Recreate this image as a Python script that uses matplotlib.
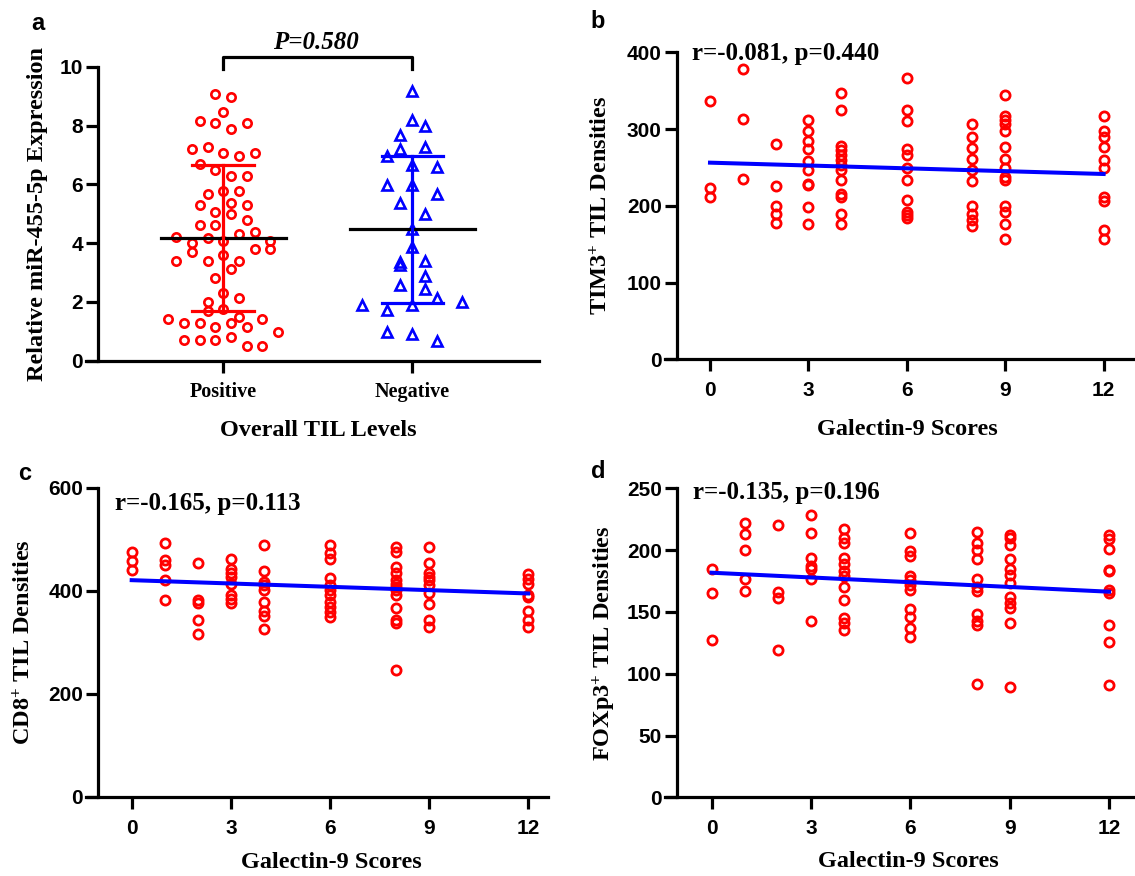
import numpy as np
import matplotlib
matplotlib.use('Agg')
import matplotlib.pyplot as plt

plt.rcParams.update({
    'font.family': 'Liberation Sans', 'font.weight': 'bold',
    'mathtext.fontset': 'custom', 'mathtext.rm': 'Liberation Serif:bold',
    'mathtext.it': 'Liberation Serif:bold', 'mathtext.bf': 'Liberation Serif:bold',
})
SERIF = 'Liberation Serif'
RED = '#ff0000'
BLUE = '#0000ff'
W, H = 1135, 876

# ---- panel a: miR-455-5p by TIL level (value, swarm slot) ----
groups = ['Positive', 'Negative']
pos_vals = [9.07, 8.96, 8.47, 8.16, 8.07, 7.87, 8.07, 7.19, 7.26, 7.08, 6.96, 7.08,
            6.69, 6.49, 6.28, 6.28, 5.67, 5.78, 5.78, 5.30, 5.37, 5.30, 5.07, 4.99,
            4.79, 4.62, 4.62, 4.20, 4.16, 4.31, 4.39, 3.99, 4.08, 4.08, 3.71, 3.79,
            3.79, 3.40, 3.40, 3.60, 3.40, 3.11, 2.80, 2.31, 2.01, 2.12, 1.70, 1.75,
            1.50, 1.41, 1.29, 1.29, 1.29, 1.41, 1.14, 1.14, 0.99, 0.70, 0.70, 0.70,
            0.80, 0.50, 0.50]
pos_slot = [-1, 1, 0, -3, -1, 1, 3, -4, -2, 0, 2, 4,
            -3, -1, 1, 3, -2, 0, 2, -3, 1, 3, -1, 1,
            3, -3, -1, -6, -2, 2, 4, -4, 0, 6, -4, 4,
            6, -6, -2, 0, 2, 1, -1, 0, -2, 2, -2, 0,
            2, -7, -5, -3, 1, 5, -1, 3, 7, -5, -3, -1,
            1, 3, 5]
neg_vals = [9.18, 8.19, 7.98, 7.68, 7.19, 7.26, 6.96, 6.66, 6.58, 5.98, 5.98, 5.67,
            5.37, 4.99, 4.47, 3.86, 3.37, 3.26, 3.40, 2.88, 2.57, 2.43, 1.89, 1.72,
            1.89, 2.12, 2.01, 0.99, 0.91, 0.68]
neg_slot = [0, 0, 1, -1, -1, 1, -2, 0, 2, -2, 0, 2,
            -1, 1, 0, 0, -1, -1, 1, 1, -1, 1, -4, -2,
            0, 2, 4, -2, 0, 2]
p_text = 'P=0.580'

# ---- panels b-d: densities by Galectin-9 score ----
tim3 = {0: [336, 223, 211], 1: [378, 313, 235], 2: [280, 226, 200, 189, 178],
        3: [312, 297, 285, 274, 258, 246, 229, 227, 198, 176],
        4: [347, 325, 278, 273, 266, 260, 253, 247, 234, 215, 211, 189, 176],
        6: [366, 325, 311, 274, 266, 249, 234, 207, 192, 188, 184],
        8: [307, 290, 275, 261, 246, 232, 200, 189, 182, 174],
        9: [345, 317, 312, 307, 298, 277, 261, 249, 238, 234, 200, 192, 176, 157],
        12: [317, 297, 289, 276, 260, 249, 212, 206, 169, 157]}
cd8 = {0: [475, 458, 441], 1: [492, 459, 450, 420, 382], 2: [453, 382, 377, 343, 316],
       3: [462, 443, 434, 427, 414, 392, 383, 377],
       4: [488, 439, 417, 411, 401, 379, 361, 351, 325],
       6: [488, 474, 462, 424, 411, 401, 392, 379, 369, 359, 350],
       8: [485, 475, 446, 434, 421, 414, 408, 401, 392, 366, 343, 337, 246],
       9: [484, 454, 434, 427, 421, 411, 395, 374, 343, 330],
       12: [432, 422, 414, 392, 387, 361, 343, 330]}
foxp3 = {0: [185, 165, 127], 1: [222, 213, 200, 177, 167], 2: [220, 166, 161, 119],
         3: [228, 214, 194, 187, 185, 177, 143],
         4: [217, 210, 206, 194, 189, 183, 179, 170, 160, 145, 141, 135],
         6: [214, 199, 195, 179, 176, 172, 168, 152, 146, 137, 130],
         8: [215, 206, 200, 193, 177, 170, 167, 148, 143, 139, 92],
         9: [212, 210, 204, 193, 185, 180, 173, 162, 157, 153, 141, 89],
         12: [212, 209, 201, 184, 183, 168, 165, 139, 126, 91]}
tim3_fit = (256.2, -1.23)   # intercept, slope
cd8_fit = (420.5, -2.15)
foxp3_fit = (181.7, -1.28)
tim3_stat = 'r=-0.081, p=0.440'
cd8_stat = 'r=-0.165, p=0.113'
foxp3_stat = 'r=-0.135, p=0.196'


def add_axes(fig, L, T, R, B):
    return fig.add_axes([L / W, (H - B) / H, (R - L) / W, (B - T) / H])


def style(ax, spine_x, xlim, ylim, yticks):
    ax.set_xlim(xlim)
    ax.set_ylim(ylim)
    ax.set_yticks(yticks)
    ax.spines['left'].set_position(('data', spine_x))
    ax.spines[['top', 'right']].set_visible(False)
    for s in ['left', 'bottom']:
        ax.spines[s].set_linewidth(2.3)
    ax.tick_params(width=2.3, length=8.6, labelsize=15, direction='out')
    ax.tick_params(axis='x', pad=7)
    ax.tick_params(axis='y', pad=2.4)


def labels(ax, xlab, ylab, xl, yl):
    ax.set_xlabel(xlab, fontfamily=SERIF, fontsize=17.5, fontweight='bold')
    ax.set_ylabel(ylab, fontfamily=SERIF, fontsize=17.5, fontweight='bold')
    ax.xaxis.set_label_coords(*xl)
    ax.yaxis.set_label_coords(*yl)
    ax.xaxis.label.set_va('center')
    ax.yaxis.label.set_va('center')


def scatter_panel(ax, data, fit, stat, text_xy):
    xs = [k for k, v in data.items() for _ in v]
    ys = [y for v in data.values() for y in v]
    ax.plot(xs, ys, 'o', ms=6.6, mfc='none', mec=RED, mew=2.0, zorder=3, clip_on=False)
    xf = np.array([0, 12])
    ax.plot(xf, fit[0] + fit[1] * xf, color=BLUE, lw=2.9, zorder=4)
    ax.set_xticks([0, 3, 6, 9, 12])
    ax.text(*text_xy, stat, fontfamily=SERIF, fontsize=18, fontweight='bold',
            ha='left', va='center')


fig = plt.figure(figsize=(W / 100, H / 100), dpi=100)

# panel a
ax = add_axes(fig, 86, 66.7, 539, 360.7)
style(ax, -0.661, (-0.726, 1.670), (0, 10), range(0, 11, 2))
ax.set_xticks([0, 1])
ax.set_xticklabels(groups, fontfamily=SERIF, fontsize=14.5)
for gi, (vals, slots, mk, col, step) in enumerate(
        [(pos_vals, pos_slot, 'o', RED, 0.0414), (neg_vals, neg_slot, '^', BLUE, 0.066)]):
    vals = np.array(vals)
    ax.plot(gi + np.array(slots) * step, vals, mk, ms=6.0 if mk == 'o' else 7.2,
            mfc='none', mec=col, mew=1.9, zorder=3)
    m, sd = vals.mean(), vals.std(ddof=1)
    ax.plot([gi - 0.33, gi + 0.33], [m, m], color='black', lw=2.3, zorder=4)
    ax.plot([gi, gi], [m - sd, m + sd], color=col, lw=2.3, zorder=4)
    for yv in (m - sd, m + sd):
        ax.plot([gi - 0.163, gi + 0.163], [yv, yv], color=col, lw=2.3, zorder=4)
ax.plot([0, 0, 1, 1], [9.91, 10.34, 10.34, 9.91], color='black', lw=2.3, clip_on=False)
ax.text(0.49, 10.84, p_text, fontfamily=SERIF, fontsize=18, fontweight='bold',
        fontstyle='italic', ha='center', va='center')
labels(ax, 'Overall TIL Levels', 'Relative miR-455-5p Expression', (0.512, -0.236), (-0.106, 0.5))

# panel b
ax = add_axes(fig, 665, 52.3, 1133, 359.3)
style(ax, -1.006, (-1.372, 12.896), (0, 400), range(0, 401, 100))
scatter_panel(ax, tim3, tim3_fit, tim3_stat, (-0.55, 398.7))
labels(ax, 'Galectin-9 Scores', 'TIM3$^{+}$ TIL Densities', (0.517, -0.230), (-0.137, 0.5))

# panel c
ax = add_axes(fig, 86, 487.6, 548, 797)
style(ax, -1.01, (-1.383, 12.6), (0, 600), range(0, 601, 200))
scatter_panel(ax, cd8, cd8_fit, cd8_stat, (-0.5, 569))
labels(ax, 'Galectin-9 Scores', 'CD8$^{+}$ TIL Densities', (0.532, -0.213), (-0.134, 0.5))

# panel d
ax = add_axes(fig, 665, 488.3, 1133, 797.3)
style(ax, -1.04, (-1.41, 12.72), (0, 250), range(0, 251, 50))
scatter_panel(ax, foxp3, foxp3_fit, foxp3_stat, (-0.55, 247))
labels(ax, 'Galectin-9 Scores', 'FOXp3$^{+}$ TIL Densities', (0.519, -0.209), (-0.130, 0.5))

for letter, x, y in [('a', 38, 23), ('b', 598, 22), ('c', 25, 473), ('d', 598, 472)]:
    fig.text(x / W, 1 - y / H, letter, ha='center', va='center', fontsize=17, fontweight='bold')

fig.savefig('out.png', dpi=100)
